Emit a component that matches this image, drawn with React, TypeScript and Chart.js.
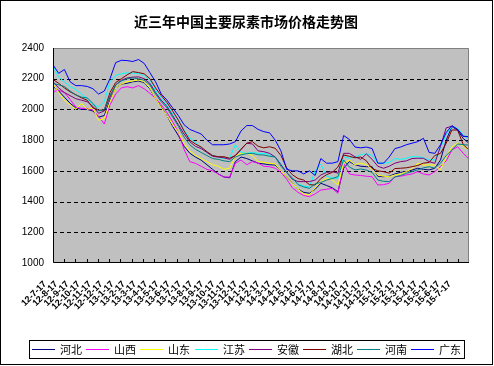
import { useEffect, useRef } from "react";
import { Chart, registerables } from "chart.js";

Chart.register(...registerables);

const title = "近三年中国主要尿素市场价格走势图";

const months = [
  "12-7-17", "12-8-17", "12-9-17", "12-10-17", "12-11-17", "12-12-17",
  "13-1-17", "13-2-17", "13-3-17", "13-4-17", "13-5-17", "13-6-17",
  "13-7-17", "13-8-17", "13-9-17", "13-10-17", "13-11-17", "13-12-17",
  "14-1-17", "14-2-17", "14-3-17", "14-4-17", "14-5-17", "14-6-17",
  "14-7-17", "14-8-17", "14-9-17", "14-10-17", "14-11-17", "14-12-17",
  "15-1-17", "15-2-17", "15-3-17", "15-4-17", "15-5-17", "15-6-17",
  "15-7-17",
];

const yTicks = [1000, 1200, 1400, 1600, 1800, 2000, 2200, 2400];

const seriesNames = ["河北", "山西", "山东", "江苏", "安徽", "湖北", "河南", "广东"];
const seriesColors = ["#000080", "#FF00FF", "#FFFF00", "#00FFFF", "#800080", "#800000", "#008080", "#0000FF"];

const hebei = [2150,2120,2080,2040,2010,2000,2000,1990,1950,1960,2060,2140,2165,2170,2180,2185,2175,2135,2070,2015,1960,1890,1830,1760,1715,1690,1670,1640,1610,1580,1560,1555,1660,1690,1680,1665,1650,1645,1640,1638,1600,1560,1520,1480,1460,1454,1480,1519,1505,1490,1464,1617,1660,1640,1630,1627,1627,1565,1562,1565,1580,1590,1595,1605,1617,1610,1606,1617,1671,1800,1888,1866,1810,1780];
const shanxi = [2115,2125,2110,2065,2015,2007,2007,1996,1955,1905,2030,2100,2140,2148,2140,2155,2135,2105,2072,2030,1980,1920,1850,1740,1660,1649,1630,1610,1600,1580,1560,1560,1650,1671,1640,1660,1650,1630,1627,1617,1590,1545,1490,1460,1440,1432,1450,1475,1480,1486,1454,1649,1580,1573,1570,1565,1562,1508,1510,1519,1562,1565,1573,1580,1595,1580,1573,1595,1627,1665,1736,1757,1714,1675];
const shandong = [2165,2110,2060,2030,2000,2040,2000,2010,1930,1940,2050,2140,2165,2180,2185,2192,2180,2140,2070,2010,1960,1900,1850,1780,1730,1700,1680,1660,1640,1630,1610,1617,1692,1714,1714,1700,1660,1655,1649,1645,1600,1560,1520,1480,1450,1443,1490,1530,1550,1540,1508,1649,1671,1640,1650,1640,1610,1573,1565,1562,1573,1580,1595,1615,1649,1638,1638,1638,1606,1692,1757,1780,1760,1736];
const jiangsu = [2280,2210,2180,2150,2130,2100,2070,2030,2018,2050,2180,2222,2232,2238,2235,2235,2220,2192,2125,2075,2028,1975,1930,1865,1815,1785,1750,1720,1700,1690,1680,1685,1770,1720,1714,1720,1714,1714,1705,1690,1645,1590,1550,1515,1500,1495,1600,1645,1565,1555,1550,1692,1682,1690,1705,1712,1700,1650,1649,1655,1680,1675,1682,1692,1692,1685,1671,1671,1750,1840,1888,1877,1835,1801];
const anhui = [2180,2140,2110,2090,2070,2060,2050,2020,1975,1990,2080,2160,2190,2205,2210,2212,2200,2170,2110,2060,2020,1960,1900,1840,1790,1760,1745,1720,1695,1690,1685,1675,1700,1740,1780,1775,1730,1725,1714,1690,1640,1590,1545,1530,1530,1530,1540,1573,1590,1595,1585,1714,1714,1692,1675,1710,1675,1630,1617,1630,1650,1660,1665,1680,1682,1682,1660,1649,1760,1880,1890,1870,1825,1822];
const hubei = [2195,2170,2140,2115,2095,2075,2060,2010,1995,1995,2110,2175,2200,2225,2246,2240,2232,2200,2140,2090,2045,1990,1930,1860,1800,1775,1755,1725,1700,1692,1692,1682,1700,1740,1780,1790,1760,1750,1757,1747,1700,1620,1575,1550,1540,1510,1508,1550,1575,1590,1625,1703,1695,1685,1690,1665,1615,1600,1595,1585,1615,1617,1620,1627,1635,1650,1655,1700,1714,1780,1866,1866,1770,1736];
const henan = [2170,2160,2150,2120,2095,2080,2075,2040,1990,2000,2090,2160,2185,2200,2205,2200,2190,2160,2100,2050,2010,1950,1890,1820,1770,1740,1720,1700,1680,1675,1665,1660,1690,1705,1712,1714,1705,1703,1695,1690,1630,1590,1555,1510,1495,1486,1515,1525,1540,1550,1562,1671,1625,1606,1612,1605,1590,1540,1532,1530,1560,1570,1584,1595,1606,1620,1627,1617,1650,1700,1736,1775,1770,1768];
const guangdong = [2290,2235,2260,2180,2155,2155,2150,2135,2100,2120,2200,2305,2320,2318,2312,2325,2300,2240,2180,2100,2060,2010,1960,1900,1870,1855,1840,1800,1770,1770,1770,1775,1790,1860,1895,1895,1870,1855,1848,1800,1730,1610,1600,1600,1580,1600,1570,1680,1650,1650,1660,1830,1805,1755,1750,1755,1745,1650,1650,1690,1745,1755,1770,1780,1790,1812,1720,1714,1770,1850,1895,1870,1825,1822];

const seriesValues = [hebei, shanxi, shandong, jiangsu, anhui, hubei, henan, guangdong];

const xMax = months.length; // month boundaries 0..37
const yMin = yTicks[0];
const yMax = yTicks[yTicks.length - 1];

const cjk = '"Noto Sans CJK SC", "Noto Sans CJK JP", sans-serif';

const decorPlugin = {
  id: "decor",
  beforeDraw(chart: any) {
    const { ctx, chartArea: a, scales } = chart;
    ctx.save();
    ctx.fillStyle = "#FFFFFF";
    ctx.fillRect(0, 0, chart.width, chart.height);
    ctx.fillStyle = "#C0C0C0";
    ctx.fillRect(a.left, a.top, a.right - a.left, a.bottom - a.top);
    ctx.strokeStyle = "#000000";
    ctx.lineWidth = 1;
    ctx.setLineDash([4, 3]);
    yTicks.forEach((v) => {
      if (v === yMin || v === yMax) return;
      const y = Math.round(scales.y.getPixelForValue(v)) + 0.5;
      ctx.beginPath();
      ctx.moveTo(a.left, y);
      ctx.lineTo(a.right, y);
      ctx.stroke();
    });
    ctx.restore();
  },
  afterDraw(chart: any) {
    const { ctx, chartArea: a, scales } = chart;
    ctx.save();
    ctx.setLineDash([]);
    ctx.lineWidth = 1;
    ctx.strokeStyle = "#808080";
    ctx.beginPath();
    ctx.moveTo(a.left, a.top + 0.5);
    ctx.lineTo(a.right - 0.5, a.top + 0.5);
    ctx.lineTo(a.right - 0.5, a.bottom);
    ctx.stroke();
    ctx.strokeStyle = "#000000";
    ctx.beginPath();
    ctx.moveTo(a.left + 0.5, a.top);
    ctx.lineTo(a.left + 0.5, a.bottom - 0.5);
    ctx.lineTo(a.right, a.bottom - 0.5);
    ctx.stroke();
    ctx.beginPath();
    for (let k = 1; k < xMax; k++) {
      const x = Math.round(scales.x.getPixelForValue(k)) + 0.5;
      ctx.moveTo(x, a.bottom - 1);
      ctx.lineTo(x, a.bottom - 4);
    }
    ctx.stroke();
    ctx.fillStyle = "#000000";
    ctx.font = `bold 14px ${cjk}`;
    ctx.textAlign = "center";
    ctx.textBaseline = "middle";
    ctx.fillText(title, 246, 22);
    const lx = 29.5, ly = 340.5, lw = 435, lh = 18;
    ctx.strokeStyle = "#000000";
    ctx.strokeRect(lx, ly, lw, lh);
    ctx.font = `11px ${cjk}`;
    ctx.textAlign = "left";
    seriesNames.forEach((name, i) => {
      const x0 = Math.round(32 + i * 54.2);
      ctx.fillStyle = seriesColors[i];
      ctx.fillRect(x0, 349, 23, 1);
      ctx.fillStyle = "#000000";
      ctx.fillText(name, x0 + 28, 350);
    });
    ctx.strokeStyle = "#000000";
    ctx.strokeRect(0.5, 0.5, 492, 364);
    ctx.restore();
  },
};

export default function App() {
  const ref = useRef<HTMLCanvasElement | null>(null);

  useEffect(() => {
    if (!ref.current) return;
    const datasets = seriesValues.map((vals, i) => ({
      label: seriesNames[i],
      data: vals.map((v, j) => ({ x: (j * xMax) / (vals.length - 1), y: v })),
      borderColor: seriesColors[i],
      backgroundColor: seriesColors[i],
      borderWidth: 1,
      pointRadius: 0,
      pointHoverRadius: 0,
      tension: 0,
      fill: false,
      order: seriesValues.length - i,
    }));
    const chart = new Chart(ref.current, {
      type: "line",
      data: { datasets },
      plugins: [decorPlugin],
      options: {
        animation: false,
        responsive: false,
        devicePixelRatio: 1,
        parsing: false as any,
        layout: { padding: { left: 0, top: 48, right: 25, bottom: 43 } },
        plugins: {
          legend: { display: false },
          title: { display: false },
          tooltip: { enabled: false },
        },
        scales: {
          x: {
            type: "linear",
            min: 0,
            max: xMax,
            grid: { display: false, drawTicks: false },
            border: { display: false },
            afterBuildTicks: (s: any) => {
              s.ticks = months.map((_, i) => ({ value: i }));
            },
            afterFit: (s: any) => {
              s.height = 60;
            },
            ticks: {
              autoSkip: false,
              maxRotation: 45,
              minRotation: 45,
              padding: 16,
              labelOffset: -8,
              color: "#000000",
              font: { family: "Liberation Sans", size: 9, weight: "bold" },
              callback: (_v: any, i: number) => months[i],
            },
          },
          y: {
            type: "linear",
            min: yMin,
            max: yMax,
            grid: { display: false, drawTicks: false },
            border: { display: false },
            afterBuildTicks: (s: any) => {
              s.ticks = yTicks.map((v) => ({ value: v }));
            },
            afterFit: (s: any) => {
              s.width = 53;
            },
            ticks: {
              padding: 9,
              color: "#000000",
              font: { family: "Liberation Sans", size: 10 },
              callback: (v: any) => String(v),
            },
          },
        },
      },
    });
    return () => chart.destroy();
  }, []);

  return (
    <div style={{ position: "absolute", left: 0, top: 0, width: 494, height: 366 }}>
      <canvas ref={ref} width={494} height={366} style={{ display: "block", width: 494, height: 366 }} />
    </div>
  );
}
